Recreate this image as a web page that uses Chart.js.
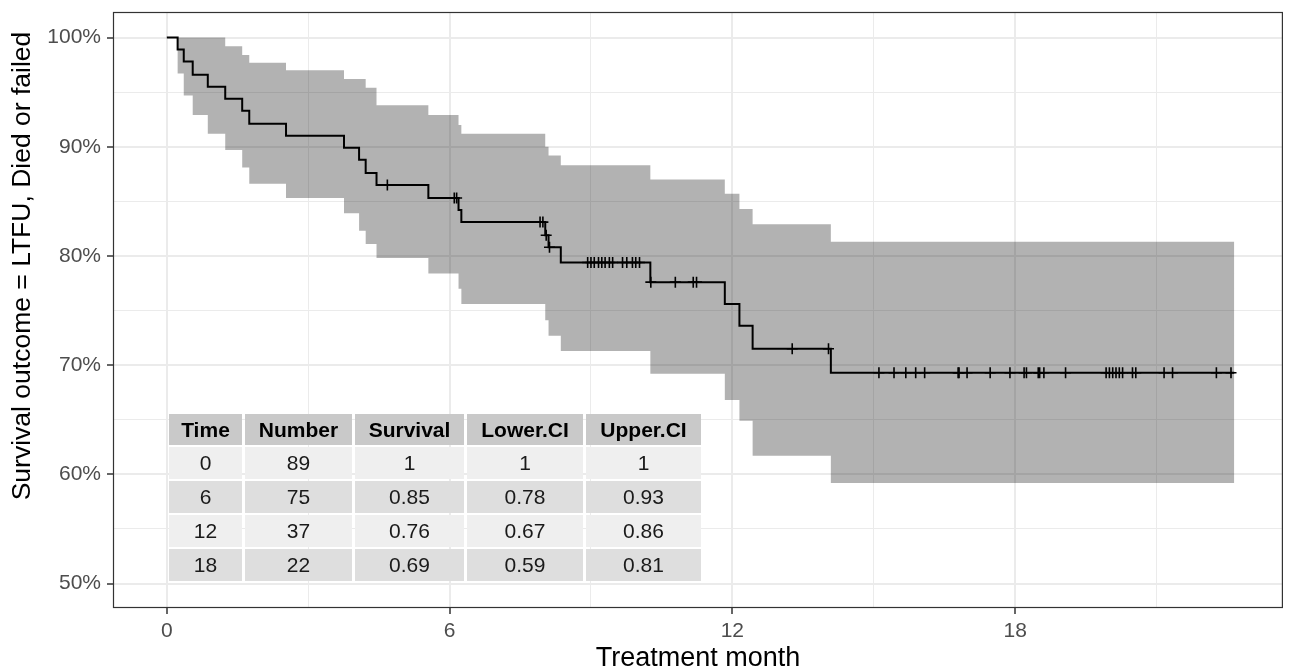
<!DOCTYPE html>
<html>
<head>
<meta charset="utf-8">
<title>Kaplan-Meier</title>
<script src="https://cdn.jsdelivr.net/npm/chart.js@4.4.1/dist/chart.umd.min.js"></script>
<style>
    html, body { margin: 0; padding: 0; background: #ffffff; }
    #wrap { position: relative; width: 1289px; height: 672px; overflow: hidden; }
    #km { display: block; }
    #tbl {
        position: absolute; left: 166px; top: 412px;
        border-collapse: separate; border-spacing: 3px 2px;
        font-family: "Liberation Sans", Arial, Helvetica, sans-serif;
        font-size: 21px; color: #1a1a1a;
    }
    #tbl td, #tbl th { padding: 0; text-align: center; box-sizing: border-box; }
    #tbl th { background: #c9c9c9; color: #000; font-weight: bold; height: 31px; }
    #tbl td { height: 32px; }
    #tbl tr.odd td { background: #efefef; }
    #tbl tr.even td { background: #dedede; }
</style>
</head>
<body>
<div id="wrap">
    <canvas id="km" width="1289" height="672"></canvas>
    <table id="tbl"><thead><tr id="tblHead"></tr></thead><tbody id="tblBody"></tbody></table>
</div>
<script>
// Kaplan-Meier steps: time (months), survival %, lower / upper CI %
const kmTime  = [0, 0.23, 0.36, 0.55, 0.87, 1.24, 1.60, 1.75, 2.53, 3.76, 4.08, 4.22, 4.45, 5.55, 6.19, 6.25, 8.03, 8.10, 8.36, 10.26, 11.84, 12.15, 12.43, 14.09];
const kmSurv  = [100, 98.9, 97.8, 96.6, 95.5, 94.4, 93.3, 92.1, 91.0, 89.9, 88.8, 87.6, 86.5, 85.3, 84.2, 83.1, 81.9, 80.8, 79.4, 77.6, 75.6, 73.6, 71.5, 69.3];
const kmLower = [100, 96.7, 94.7, 92.9, 91.2, 89.7, 88.1, 86.6, 85.3, 83.9, 82.3, 81.1, 79.8, 78.4, 77.0, 75.6, 74.1, 72.7, 71.3, 69.2, 66.8, 64.9, 61.7, 59.2];
const kmUpper = [100, 100, 100, 100, 100, 99.2, 98.4, 97.7, 97.0, 96.2, 96.2, 95.4, 93.8, 92.9, 92.0, 91.2, 90.0, 89.2, 88.3, 87.0, 85.7, 84.3, 82.9, 81.3];
const endTime = 22.65;

// censored observations
const censorTime = [4.68, 6.10, 6.15, 7.92, 7.98, 8.05, 8.12,
    8.93, 9.00, 9.07, 9.16, 9.23, 9.30, 9.39, 9.46, 9.67, 9.76, 9.88, 9.95, 10.03,
    10.27, 10.79, 11.17, 11.24, 13.27, 14.04,
    15.11, 15.43, 15.68, 15.89, 16.08, 16.79, 16.81, 16.98, 17.47, 17.89, 18.19, 18.24, 18.49, 18.52,
    18.61, 19.07, 19.93, 20.00, 20.07, 20.14, 20.21, 20.28, 20.49, 20.56, 21.16, 21.34, 22.27, 22.58];
const censorSurv = [86.5, 85.3, 85.3, 83.1, 83.1, 81.9, 80.8,
    79.4, 79.4, 79.4, 79.4, 79.4, 79.4, 79.4, 79.4, 79.4, 79.4, 79.4, 79.4, 79.4,
    77.6, 77.6, 77.6, 77.6, 71.5, 71.5,
    69.3, 69.3, 69.3, 69.3, 69.3, 69.3, 69.3, 69.3, 69.3, 69.3, 69.3, 69.3, 69.3, 69.3,
    69.3, 69.3, 69.3, 69.3, 69.3, 69.3, 69.3, 69.3, 69.3, 69.3, 69.3, 69.3, 69.3, 69.3];

const xTicks = [0, 6, 12, 18];
const yTicks = [50, 60, 70, 80, 90, 100];
const yTitle = 'Survival outcome = LTFU, Died or failed';

// summary table
const tableHead     = ['Time', 'Number', 'Survival', 'Lower.CI', 'Upper.CI'];
const tableTime     = ['0', '6', '12', '18'];
const tableNumber   = ['89', '75', '37', '22'];
const tableSurvival = ['1', '0.85', '0.76', '0.69'];
const tableLower    = ['1', '0.78', '0.67', '0.59'];
const tableUpper    = ['1', '0.93', '0.86', '0.81'];
const colWidths = [73, 107, 109, 116, 115];

const FONT = '"Liberation Sans", Arial, Helvetica, sans-serif';

function steps(values) {
    const pts = kmTime.map((t, i) => ({x: t, y: values[i]}));
    pts.push({x: endTime, y: values[values.length - 1]});
    return pts;
}

function gridLines(step, from, to) {
    const out = [];
    for (let v = from; v <= to + 1e-9; v += step) out.push({value: v});
    return out;
}

// box round the panel + y axis title (it sits above the panel centre in the original)
const panelExtras = {
    id: 'panelExtras',
    afterDraw(chart) {
        const a = chart.chartArea, ctx = chart.ctx;
        ctx.save();
        ctx.strokeStyle = '#333333';
        ctx.lineWidth = 1.2;
        ctx.strokeRect(a.left - 0.5, a.top + 0.5, a.right - a.left + 1, a.bottom - a.top);
        ctx.translate(23, 266);
        ctx.rotate(-Math.PI / 2);
        ctx.fillStyle = '#000000';
        ctx.font = '26.5px ' + FONT;
        ctx.textAlign = 'center';
        ctx.textBaseline = 'middle';
        ctx.fillText(yTitle, 0, 0);
        ctx.restore();
    }
};

const data = {
    datasets: [
        {
            label: 'censored',
            data: censorTime.map((t, i) => ({x: t, y: censorSurv[i]})),
            showLine: false,
            pointStyle: 'cross',
            pointRadius: 5.5,
            pointBorderWidth: 1.6,
            pointBorderColor: '#000000',
            pointHoverRadius: 5.5
        },
        {
            label: 'survival',
            data: steps(kmSurv),
            stepped: 'before',
            borderColor: '#000000',
            borderWidth: 2,
            pointRadius: 0,
            fill: false
        },
        {
            label: 'upper',
            data: steps(kmUpper),
            stepped: 'before',
            borderWidth: 0,
            borderColor: 'rgba(0,0,0,0)',
            backgroundColor: 'rgba(0,0,0,0.3)',
            pointRadius: 0,
            fill: '+1'
        },
        {
            label: 'lower',
            data: steps(kmLower),
            stepped: 'before',
            borderWidth: 0,
            borderColor: 'rgba(0,0,0,0)',
            pointRadius: 0,
            fill: false
        }
    ]
};

const config = {
    type: 'line',
    data: data,
    plugins: [panelExtras],
    options: {
        responsive: false,
        animation: false,
        devicePixelRatio: 1,
        layout: { padding: { top: 12, right: 2, left: 0, bottom: 0 } },
        plugins: { legend: { display: false }, tooltip: { enabled: false } },
        scales: {
            x: {
                type: 'linear',
                min: -1.12,
                max: 23.66,
                afterBuildTicks: s => { s.ticks = gridLines(3, 0, 23.66); },
                afterFit: s => { s.height = 65; s.paddingLeft = 0; s.paddingRight = 0; },
                border: { display: false },
                grid: {
                    color: '#ebebeb',
                    lineWidth: c => xTicks.includes(c.tick.value) ? 2 : 1,
                    tickLength: 7,
                    tickWidth: 1.5,
                    tickColor: c => xTicks.includes(c.tick.value) ? '#333333' : 'rgba(0,0,0,0)'
                },
                ticks: {
                    autoSkip: false,
                    maxRotation: 0,
                    padding: 5,
                    color: '#4d4d4d',
                    font: { family: FONT, size: 21 },
                    callback: v => xTicks.includes(v) ? String(v) : ''
                },
                title: {
                    display: true,
                    text: 'Treatment month',
                    color: '#000000',
                    padding: 0,
                    font: { family: FONT, size: 27, lineHeight: 1 }
                }
            },
            y: {
                type: 'linear',
                min: 47.85,
                max: 102.34,
                afterBuildTicks: s => { s.ticks = gridLines(5, 50, 100); },
                afterFit: s => { s.width = 114; s.paddingTop = 0; s.paddingBottom = 0; },
                border: { display: false },
                grid: {
                    color: '#ebebeb',
                    lineWidth: c => yTicks.includes(c.tick.value) ? 2 : 1,
                    tickLength: 7,
                    tickWidth: 1.5,
                    tickColor: c => yTicks.includes(c.tick.value) ? '#333333' : 'rgba(0,0,0,0)'
                },
                ticks: {
                    autoSkip: false,
                    padding: 6,
                    color: '#4d4d4d',
                    font: { family: FONT, size: 21 },
                    callback: v => yTicks.includes(v) ? v + '%' : ''
                },
                title: { display: false }
            }
        }
    }
};

function createTable() {
    const head = document.getElementById('tblHead');
    tableHead.forEach((h, i) => {
        const th = document.createElement('th');
        th.textContent = h;
        th.style.width = colWidths[i] + 'px';
        head.appendChild(th);
    });
    const body = document.getElementById('tblBody');
    for (let r = 0; r < tableTime.length; r++) {
        const tr = document.createElement('tr');
        tr.className = r % 2 === 0 ? 'odd' : 'even';
        [tableTime[r], tableNumber[r], tableSurvival[r], tableLower[r], tableUpper[r]].forEach(v => {
            const td = document.createElement('td');
            td.textContent = v;
            tr.appendChild(td);
        });
        body.appendChild(tr);
    }
}

createTable();
const myChart = new Chart(document.getElementById('km').getContext('2d'), config);
</script>
</body>
</html>
